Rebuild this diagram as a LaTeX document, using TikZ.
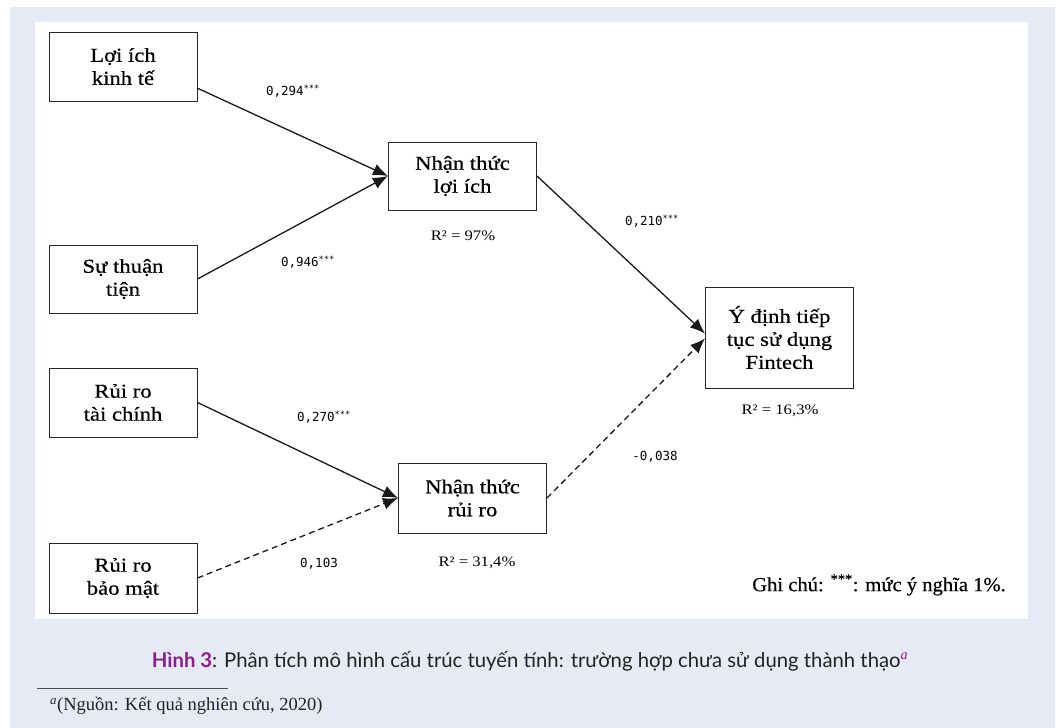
\documentclass[tikz,border=0pt]{standalone}
\usepackage{fontspec}
\setmainfont{Liberation Serif}
\newfontfamily\boxfont[FakeStretch=1.15,FakeBold=0.5]{Liberation Serif}
\newfontfamily\rsqfont[FakeStretch=1.15]{Liberation Serif}
\newfontfamily\notefont[FakeStretch=1.03,FakeBold=0.4]{Liberation Serif}
\newfontfamily\coeffont{DejaVu Sans Mono}
\newfontfamily\capfont{Lato}
\usetikzlibrary{arrows.meta,calc}
\definecolor{pagebg}{HTML}{E6EAF5}
\definecolor{capurple}{HTML}{8E1C8C}
\definecolor{captext}{HTML}{222222}

\begin{document}
\begin{tikzpicture}[x=1pt,y=-1pt,
  every node/.style={inner sep=0pt},
  var/.style={draw=black!85, line width=1pt, fill=white, minimum width=148pt,
    align=center, font=\boxfont\fontsize{19.7}{23}\selectfont},
  coef/.style={font=\coeffont\fontsize{12.5}{14}\selectfont},
  rsq/.style={font=\rsqfont\fontsize{14.5}{16}\selectfont},
  link/.style={line width=1.3pt, color=black!90, -{Latex[length=15pt,width=12pt]}},
  weaklink/.style={link, dash pattern=on 6pt off 4pt}
]
\useasboundingbox (0,0) rectangle (1058,728);
% page, shaded frame and white figure panel
\fill[white] (0,0) rectangle (1058,728);
\fill[pagebg] (10,7) rectangle (1055,728);
\fill[white] (35,22) rectangle (1028,619);

% constructs
\node[var, minimum height=69pt] (econ) at (123,66.5) {Lợi ích\\kinh tế};
\node[var, minimum height=68pt] (conv) at (123,279) {Sự thuận\\tiện};
\node[var, minimum height=69pt] (finr) at (123,402.5) {Rủi ro\\tài chính};
\node[var, minimum height=70pt] (secr) at (123,578) {Rủi ro\\bảo mật};
\node[var, minimum height=68pt] (pben) at (462.5,176) {Nhận thức\\lợi ích};
\node[var, minimum height=70pt] (prisk) at (472.5,498) {Nhận thức\\rủi ro};
\node[var, minimum height=101pt] (intent) at (779.5,337.5) {Ý định tiếp\\tục sử dụng\\Fintech};

% paths
\draw[link] ($(econ.north east)!0.81!(econ.south east)$) -- (pben.west);
\draw[link] (conv.east) -- (pben.west);
\draw[link] (finr.east) -- (prisk.west);
\draw[weaklink] (secr.east) -- (prisk.west);
\draw[link] (pben.east) -- ([yshift=4pt]intent.west);
\draw[weaklink] (prisk.east) -- ([yshift=-1pt]intent.west);

% path coefficients
\node[coef] (c1) at (293,91) {0,294\textsuperscript{***}};
\node[coef] (c2) at (308,262) {0,946\textsuperscript{***}};
\node[coef] (c3) at (652,221) {0,210\textsuperscript{***}};
\node[coef] (c4) at (324,417) {0,270\textsuperscript{***}};
\node[coef] (c5) at (319,564) {0,103};
\node[coef] (c6) at (655,457) {-0,038};

% explained variance
\node[rsq] (r1) at (463,236) {R² = 97\%};
\node[rsq] (r2) at (780,411) {R² = 16,3\%};
\node[rsq] (r3) at (477,563) {R² = 31,4\%};

\node[anchor=east, font=\notefont\fontsize{20}{22}\selectfont] (note) at (1006,585)
  {Ghi chú: \textsuperscript{***}: mức ý nghĩa 1\%.};

% caption
\node[font=\capfont\fontsize{20.3}{24}\selectfont, text=captext] (caption) at (530,661)
  {\textcolor{capurple}{\bfseries Hình 3}: Phân tích mô hình cấu trúc tuyến tính: trường hợp chưa sử dụng thành thạo\textcolor{capurple}{\textsuperscript{\rmfamily\itshape a}}};

% footnote
\coordinate (fl) at (37,688);
\coordinate (fr) at (228,688);
\draw[line width=1pt, black!70] (fl) -- (fr);
\node[anchor=west, font=\fontsize{18.5}{20}\selectfont, text=captext] (src) at (50,706)
  {\textsuperscript{\itshape a}(Nguồn: Kết quả nghiên cứu, 2020)};
\end{tikzpicture}
\end{document}
